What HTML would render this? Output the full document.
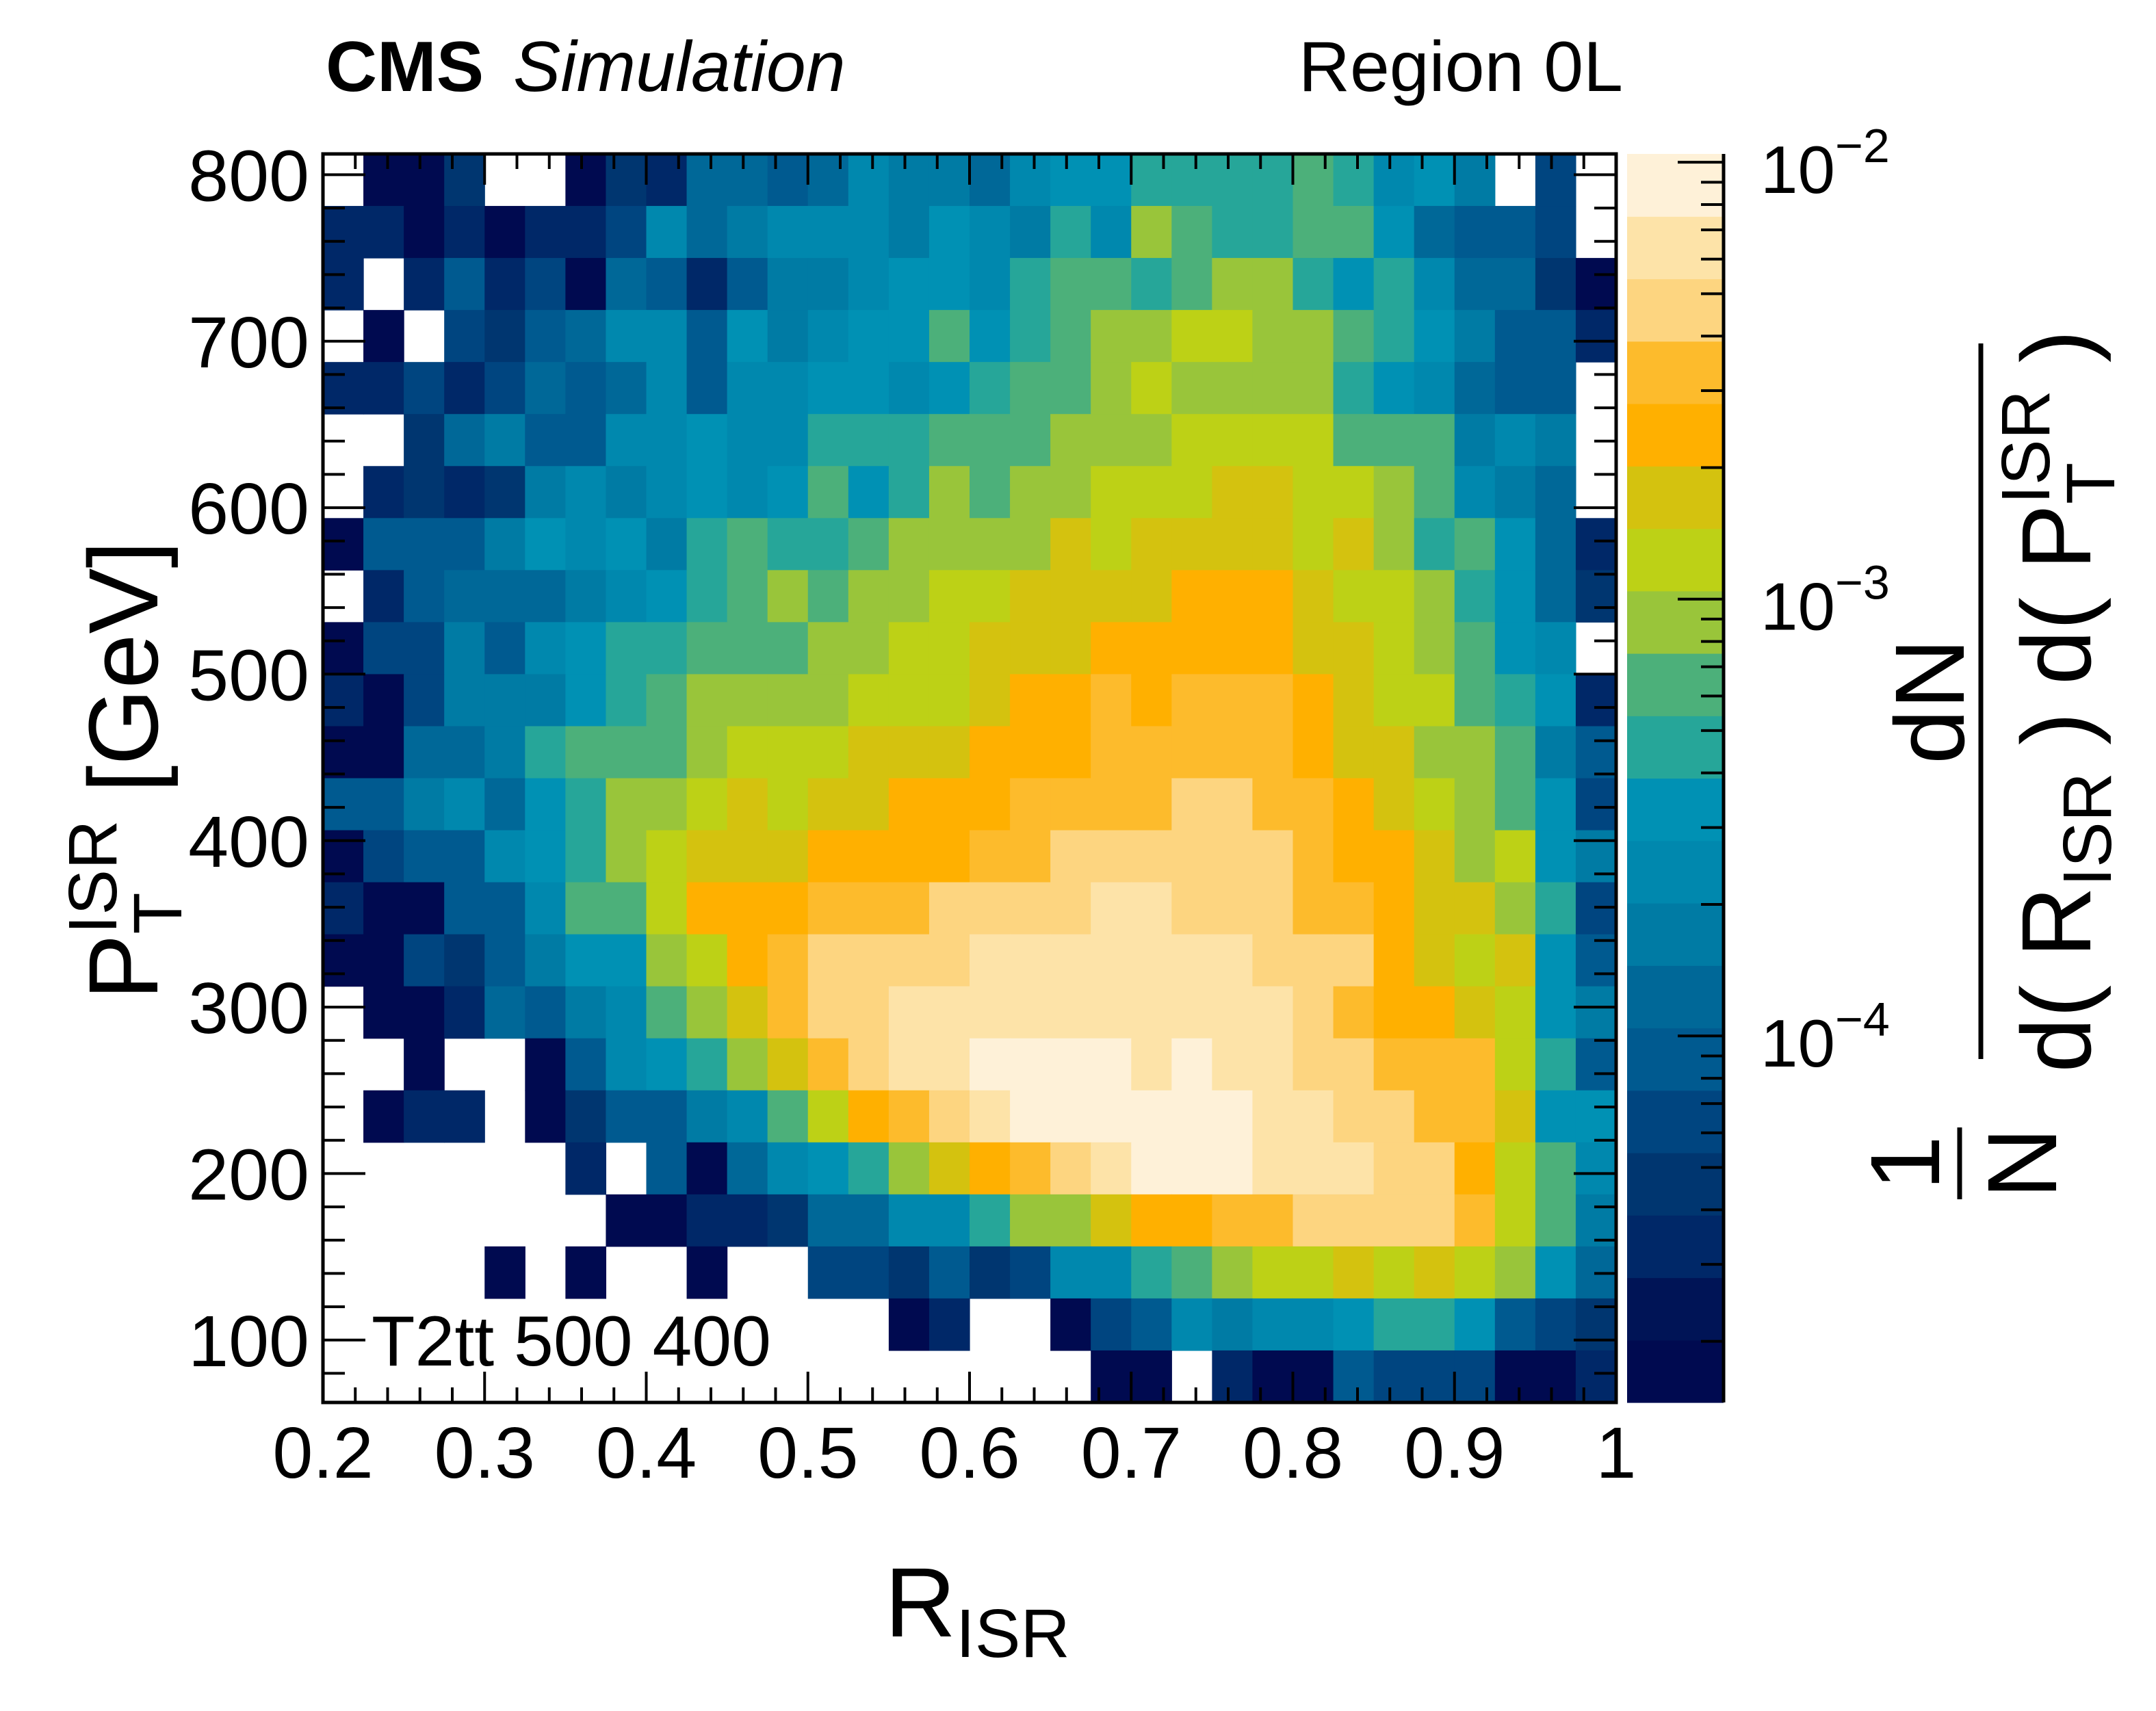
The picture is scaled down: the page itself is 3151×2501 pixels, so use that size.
<!DOCTYPE html>
<html><head><meta charset="utf-8"><title>R_ISR vs PT ISR</title>
<style>
html,body{margin:0;padding:0;background:#fff;}
svg{display:block;font-family:"Liberation Sans",Arial,sans-serif;}
</style></head>
<body>
<svg id="chart" width="3151" height="2501" viewBox="0 0 3151 2501" xmlns="http://www.w3.org/2000/svg">
  <rect x="0" y="0" width="3151" height="2501" fill="#fff"/>
  <g id="cells"></g>
  <g id="cbar"></g>
  <g id="axes"></g>
  <text x="476" y="133" font-size="104" font-weight="bold">CMS</text>
  <text x="750" y="133" font-size="104" font-style="italic">Simulation</text>
  <text x="2372" y="133" font-size="104" text-anchor="end">Region 0L</text>
  <text x="543" y="1996" font-size="104">T2tt 500 400</text>
  <text x="1293" y="2392" font-size="144">R<tspan font-size="100" dy="30">ISR</tspan></text>
  <text transform="translate(230,1126) rotate(-90)" text-anchor="middle" font-size="144">P<tspan font-size="100" dy="35">T</tspan><tspan font-size="100" dx="-61" dy="-95">ISR</tspan><tspan font-size="144" dy="60"> [GeV]</tspan></text>
  <g transform="translate(2895,1548) rotate(-90)">
    <line x1="0" y1="0" x2="1046" y2="0" stroke="#000" stroke-width="7"/>
    <text x="523" y="-25" font-size="144" text-anchor="middle">dN</text>
    <text x="523" y="160" font-size="144" text-anchor="middle">d( R<tspan font-size="100" dy="30">ISR</tspan><tspan font-size="144" dy="-30"> ) d( P</tspan><tspan font-size="100" dy="35">T</tspan><tspan font-size="100" dx="-61" dy="-95">ISR</tspan><tspan font-size="144" dy="60"> )</tspan></text>
    <text x="-152" y="-61" font-size="144" text-anchor="middle">1</text>
    <line x1="-205" y1="-31" x2="-100" y2="-31" stroke="#000" stroke-width="7"/>
    <text x="-152" y="110" font-size="144" text-anchor="middle">N</text>
  </g>
</svg>
<script>
// ---- data (values in units of 1e-5; 0 = empty bin). Rows from top (highest PT) to bottom.
const valueUnit = 1e-5;
const xMin = 0.2, xMax = 1.0, nX = 32;
const yMin = 62.5, yMax = 812.5, nY = 24;
const xTickLabels = ["0.2","0.3","0.4","0.5","0.6","0.7","0.8","0.9","1"];
const yTickLabels = ["100","200","300","400","500","600","700","800"];
const zTickExps = [-2,-3,-4];
const values = [
[0,1.7,1.7,4.6,0,0,1.7,4.6,3.3,12,12,8.9,12,24,17,17,12,24,33,33,46,46,46,46,64,46,24,33,17,0,6.4,0],
[3.3,3.3,1.7,3.3,1.7,3.3,3.3,6.4,24,12,17,24,24,24,17,33,24,17,46,24,89,64,46,46,64,64,33,12,8.9,8.9,6.4,0],
[3.3,0,3.3,8.9,3.3,6.4,1.7,12,8.9,3.3,8.9,17,17,24,33,33,24,46,64,64,46,64,89,89,46,33,46,24,12,12,4.6,1.7],
[0,1.7,0,6.4,4.6,8.9,12,24,24,8.9,33,17,24,33,33,64,33,46,64,89,89,123,123,89,89,64,46,33,17,8.9,8.9,3.3],
[3.3,3.3,6.4,3.3,6.4,12,8.9,12,24,8.9,24,24,33,33,24,33,46,64,64,89,123,89,89,89,89,46,33,24,12,8.9,8.9,0],
[0,0,4.6,12,17,8.9,8.9,24,24,33,24,24,46,46,46,64,64,64,89,89,89,123,123,123,123,64,64,64,17,24,17,0],
[0,3.3,4.6,3.3,4.6,17,24,17,24,33,24,33,64,33,46,89,64,89,89,123,123,123,171,171,123,123,89,64,24,17,12,0],
[1.7,8.9,8.9,8.9,17,33,24,33,17,46,64,46,46,64,89,89,89,89,171,123,171,171,171,171,123,171,89,46,64,33,12,3.3],
[0,3.3,8.9,12,12,12,17,24,33,46,64,89,64,89,89,123,123,171,171,171,171,237,237,237,171,123,123,89,46,33,12,4.6],
[1.7,6.4,6.4,17,8.9,24,33,46,46,64,64,64,89,89,123,123,171,171,171,237,237,237,237,237,171,171,123,89,64,33,24,0],
[3.3,1.7,6.4,17,17,17,33,46,64,89,89,89,89,123,123,123,171,237,237,330,237,330,330,330,237,171,123,123,64,46,33,3.3],
[1.7,1.7,12,12,17,46,64,64,64,89,123,123,123,171,171,171,237,237,237,330,330,330,330,330,237,171,171,89,89,64,17,8.9],
[8.9,8.9,17,24,12,33,46,89,89,123,171,123,171,171,237,237,237,330,330,330,330,458,458,330,330,237,171,123,89,64,33,6.4],
[1.7,6.4,8.9,8.9,24,33,46,89,123,171,171,171,237,237,237,237,330,330,458,458,458,458,458,458,330,237,237,171,89,123,33,17],
[3.3,1.7,1.7,8.9,8.9,24,64,64,123,237,237,237,330,330,330,458,458,458,458,637,637,458,458,458,330,330,237,171,171,89,46,6.4],
[1.7,1.7,6.4,4.6,8.9,17,33,33,89,123,237,330,458,458,458,458,637,637,637,637,637,637,637,458,458,458,237,171,123,171,33,8.9],
[0,1.7,1.7,3.3,12,8.9,17,24,64,89,171,330,458,458,637,637,637,637,637,637,637,637,637,637,458,330,237,237,171,123,33,17],
[0,0,1.7,0,0,1.7,8.9,24,33,46,89,171,330,458,637,637,885,885,885,885,637,885,637,637,458,458,330,330,330,123,46,8.9],
[0,1.7,3.3,3.3,0,1.7,4.6,8.9,8.9,17,24,64,123,237,330,458,637,885,885,885,885,885,885,637,637,458,458,330,330,171,33,33],
[0,0,0,0,0,0,3.3,0,8.9,1.7,12,24,33,46,89,171,237,330,458,637,885,885,885,637,637,637,458,458,237,123,64,24],
[0,0,0,0,0,0,0,1.7,1.7,3.3,3.3,4.6,12,12,24,24,46,89,89,171,237,237,330,330,458,458,458,458,330,123,64,17],
[0,0,0,0,1.7,0,1.7,0,0,1.7,0,0,6.4,6.4,4.6,8.9,4.6,6.4,24,24,46,64,89,123,123,171,123,171,123,89,33,12],
[0,0,0,0,0,0,0,0,0,0,0,0,0,0,1.7,3.3,0,0,1.7,6.4,8.9,24,17,24,24,33,46,46,33,8.9,6.4,4.6],
[0,0,0,0,0,0,0,0,0,0,0,0,0,0,0,0,0,0,0,1.7,1.7,0,3.3,1.7,1.7,8.9,6.4,6.4,6.4,1.7,1.7,3.3]
];
const palette = ["#000a50","#001456","#002868","#003670","#004580","#005a90","#006898","#007ba4","#0088ae","#0091b4",
"#26a699","#4cb07a","#99c53a","#bdd116","#d4c20f","#ffb000","#fdbb2c","#fdd580","#fde3a8","#fef1d8"];
const zLogMin = -4.839, zLogMax = -1.981;

// ---- geometry
const PL = 472, PR = 2362, PT = 225, PB = 2050;
const CBL = 2378, CBR = 2519;
function xs(v){ return PL + (v - xMin) / (xMax - xMin) * (PR - PL); }
function ys(v){ return PB - (v - yMin) / (yMax - yMin) * (PB - PT); }
function zy(lg){ return PB - (lg - zLogMin) / (zLogMax - zLogMin) * (PB - PT); }
function zcolor(v){
  const t = (Math.log10(v * valueUnit) - zLogMin) / (zLogMax - zLogMin);
  let b = Math.floor(t * palette.length);
  if (b < 0) b = 0; if (b > palette.length - 1) b = palette.length - 1;
  return palette[b];
}
const NS = 'http://www.w3.org/2000/svg';
function mk(tag, attrs, parent){
  const e = document.createElementNS(NS, tag);
  for (const k in attrs) e.setAttribute(k, attrs[k]);
  parent.appendChild(e);
  return e;
}
const cells = document.getElementById('cells');
const cbar = document.getElementById('cbar');
const axes = document.getElementById('axes');
const dx = (xMax - xMin) / nX, dy = (yMax - yMin) / nY;

// ---- heatmap cells
values.forEach((row, r) => {
  const yLo = yMax - (r + 1) * dy;
  row.forEach((v, c) => {
    if (!(v > 0)) return;
    const xLo = xMin + c * dx;
    const x0 = xs(xLo), x1 = xs(xLo + dx), y0 = ys(yLo + dy), y1 = ys(yLo);
    const el = mk('rect', {x: x0, y: y0, width: x1 - x0 + 0.6, height: y1 - y0 + 0.6, fill: zcolor(v)}, cells);
    
    
  });
});

// ---- colour bar
palette.forEach((col, i) => {
  const lg0 = zLogMin + i * (zLogMax - zLogMin) / palette.length;
  const lg1 = zLogMin + (i + 1) * (zLogMax - zLogMin) / palette.length;
  const el = mk('rect', {x: CBL, y: zy(lg1), width: CBR - CBL, height: zy(lg0) - zy(lg1) + 0.6, fill: col}, cbar);
  
  
});
const cbAxis = mk('line', {x1: CBR, y1: PT, x2: CBR, y2: PB, stroke: '#000', 'stroke-width': 5}, cbar);


for (let k = -5; k <= -2; k++) {
  for (let m = 1; m <= 9; m++) {
    const lg = k + Math.log10(m);
    if (lg < zLogMin || lg > zLogMax) continue;
    const len = m === 1 ? 67 : 33;
    const t = mk('line', {x1: CBR - len, y1: zy(lg), x2: CBR, y2: zy(lg), stroke: '#000', 'stroke-width': 4}, cbar);
    
    
  }
}
zTickExps.forEach(e => {
  const yy = zy(e) + 45;
  const t = mk('text', {x: 2573, y: yy, 'font-size': 98}, cbar);
  
  
  t.textContent = '10';
  const s = mk('tspan', {'font-size': 70, dy: -45}, t);
  s.textContent = '\u2212' + Math.abs(e);
});

// ---- axis ticks
for (let i = 0; i <= 40; i++) {
  const v = xMin + i * 0.02;
  const major = i % 5 === 0;
  const len = major ? 45 : 22;
  const x = xs(v);
  const a = mk('line', {x1: x, y1: PB, x2: x, y2: PB - len, stroke: '#000', 'stroke-width': 4}, axes);
  
  
  const b = mk('line', {x1: x, y1: PT, x2: x, y2: PT + len, stroke: '#000', 'stroke-width': 4}, axes);
  
  
}
xTickLabels.forEach((lab, i) => {
  const t = mk('text', {x: xs(xMin + i * 0.1), y: 2160, 'font-size': 106, 'text-anchor': 'middle'}, axes);
  
  
  t.textContent = lab;
});
for (let v = 80; v <= 800; v += 20) {
  const major = v % 100 === 0;
  const len = major ? 62 : 32;
  const y = ys(v);
  const a = mk('line', {x1: PL, y1: y, x2: PL + len, y2: y, stroke: '#000', 'stroke-width': 4}, axes);
  
  
  const b = mk('line', {x1: PR, y1: y, x2: PR - len, y2: y, stroke: '#000', 'stroke-width': 4}, axes);
  
  
}
yTickLabels.forEach(lab => {
  const t = mk('text', {x: 452, y: ys(+lab) + 38, 'font-size': 106, 'text-anchor': 'end'}, axes);
  
  
  t.textContent = lab;
});
const frame = mk('rect', {x: PL, y: PT, width: PR - PL, height: PB - PT, fill: 'none', stroke: '#000', 'stroke-width': 5}, axes);


</script>
</body></html>
